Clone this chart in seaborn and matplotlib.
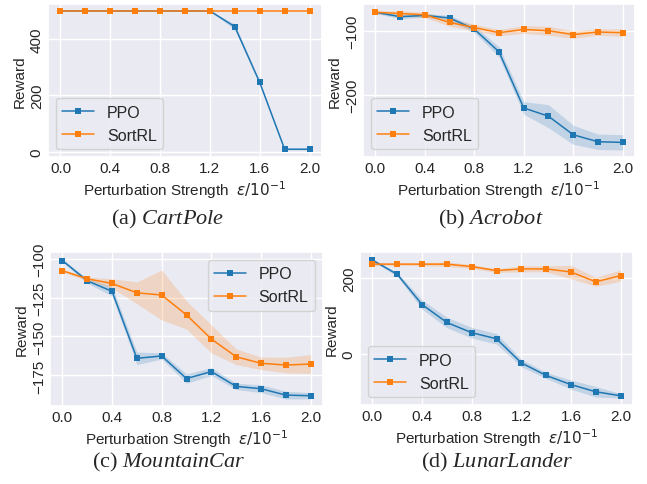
import numpy as np
import pandas as pd
import matplotlib
matplotlib.use("Agg")
import matplotlib.pyplot as plt
import seaborn as sns

sns.set_theme(style="darkgrid")
plt.rcParams['font.family'] = ['Liberation Sans', 'DejaVu Sans']
plt.rcParams['xtick.major.size'] = 0
plt.rcParams['ytick.major.size'] = 0
plt.rcParams['mathtext.it'] = 'Liberation Serif:italic'
plt.rcParams['mathtext.rm'] = 'Liberation Serif'

eps = [0.0, 0.2, 0.4, 0.6, 0.8, 1.0, 1.2, 1.4, 1.6, 1.8, 2.0]
xticks = [0.0, 0.4, 0.8, 1.2, 1.6, 2.0]
methods = ["PPO", "SortRL"]

cart_ppo = [500, 500, 500, 500, 500, 500, 500, 444, 246, 9, 9]
cart_ppo_sd = [0, 0, 0, 0, 0, 0, 0, 10, 5, 3, 3]
cart_sort = [500, 500, 500, 500, 500, 500, 500, 500, 500, 500, 500]
cart_sort_sd = [0, 0, 0, 0, 0, 0, 0, 0, 0, 0, 0]
cart_yticks = [0, 200, 400]

acro_ppo = [-71, -78, -76, -80, -97.5, -133, -221, -234, -263, -274, -275]
acro_ppo_sd = [2, 3, 3, 4, 5, 8, 10, 18, 15, 12, 12]
acro_sort = [-71, -73, -75, -87, -95, -103, -98, -100, -106, -102, -103]
acro_sort_sd = [2, 4, 4, 6, 5, 5, 6, 7, 6, 5, 6]
acro_yticks = [-200, -100]

mc_ppo = [-101.3, -114.3, -121, -164, -162.5, -177, -172.5, -182, -183.5, -187.6, -188]
mc_ppo_sd = [1, 1.5, 3, 4, 2, 3, 2.5, 2, 2.5, 2.5, 2]
mc_sort = [-107.8, -113, -116, -122, -123.4, -136.2, -151.6, -163, -167.2, -168.3, -167.7]
mc_sort_sd = [1, 1, 3, 7, 16, 9, 9, 5, 4, 5, 6]
mc_yticks = [-175, -150, -125, -100]

ll_ppo = [248.6, 210.8, 130.6, 82.9, 55.9, 39.6, -24.3, -57.7, -82, -101, -111.7]
ll_ppo_sd = [3, 5, 12, 14, 14, 14, 10, 8, 12, 14, 6]
ll_sort = [237.8, 237.8, 237.8, 237.8, 231.5, 220.7, 225.2, 225.2, 217, 191, 207.2]
ll_sort_sd = [4, 3, 4, 6, 5, 5, 8, 8, 18, 12, 15]
ll_yticks = [0, 200]

captions = [("(a) ", "CartPole"), ("(b) ", "Acrobot"),
            ("(c) ", "MountainCar"), ("(d) ", "LunarLander")]

panels = [
    (cart_ppo, cart_ppo_sd, cart_sort, cart_sort_sd, cart_yticks, "lower left"),
    (acro_ppo, acro_ppo_sd, acro_sort, acro_sort_sd, acro_yticks, "lower left"),
    (mc_ppo, mc_ppo_sd, mc_sort, mc_sort_sd, mc_yticks, "upper right"),
    (ll_ppo, ll_ppo_sd, ll_sort, ll_sort_sd, ll_yticks, "lower left"),
]

positions = [
    [48/647, 1-158/485, 274/647, 153/485],
    [363/647, 1-158/485, 272/647, 153/485],
    [50/647, 1-407/485, 273/647, 154/485],
    [360/647, 1-406/485, 273/647, 153/485],
]
cap_pos = [(168/647, 1-219/485), (491/647, 1-219/485),
           (169/647, 1-462/485), (497/647, 1-462/485)]

colors = sns.color_palette("tab10")[:2]

fig = plt.figure(figsize=(6.47, 4.85), dpi=100)
for i, (p, psd, s, ssd, yt, loc) in enumerate(panels):
    ax = fig.add_axes(positions[i])
    for name, vals, sd, c in [("PPO", p, psd, colors[0]), ("SortRL", s, ssd, colors[1])]:
        df = pd.DataFrame({"eps": eps, "reward": vals})
        sns.lineplot(data=df, x="eps", y="reward", marker="s", markersize=4,
                     markeredgewidth=0, linewidth=1.1, color=c, label=name, ax=ax)
        lo = np.array(vals) - np.array(sd)
        hi = np.array(vals) + np.array(sd)
        ax.fill_between(eps, lo, hi, color=c, alpha=0.2, linewidth=0)
    ax.set_xticks(xticks)
    ax.set_xticklabels([f"{t:.1f}" for t in xticks])
    ax.set_yticks(yt)
    ax.set_yticklabels([str(t).replace("-", "\u2212") for t in yt])
    ax.tick_params(axis="both", labelsize=11, pad=3)
    ax.tick_params(axis="y", labelrotation=90)
    for lbl in ax.get_yticklabels():
        lbl.set_va("center")
    ax.set_xlabel(r"Perturbation Strength  $\varepsilon/10^{-1}$", fontsize=11, labelpad=2)
    ax.set_ylabel("Reward", fontsize=11, labelpad=2)
    ax.legend(loc=loc, fontsize=11.5, handlelength=2.0)
    fx, fy = cap_pos[i]
    pre, name = captions[i]
    fig.text(fx, fy, pre + r"$\mathit{" + name + "}$", ha="center", va="center",
             fontsize=16, family="Liberation Serif",
             math_fontfamily="custom")

fig.savefig("out.png", dpi=100)
